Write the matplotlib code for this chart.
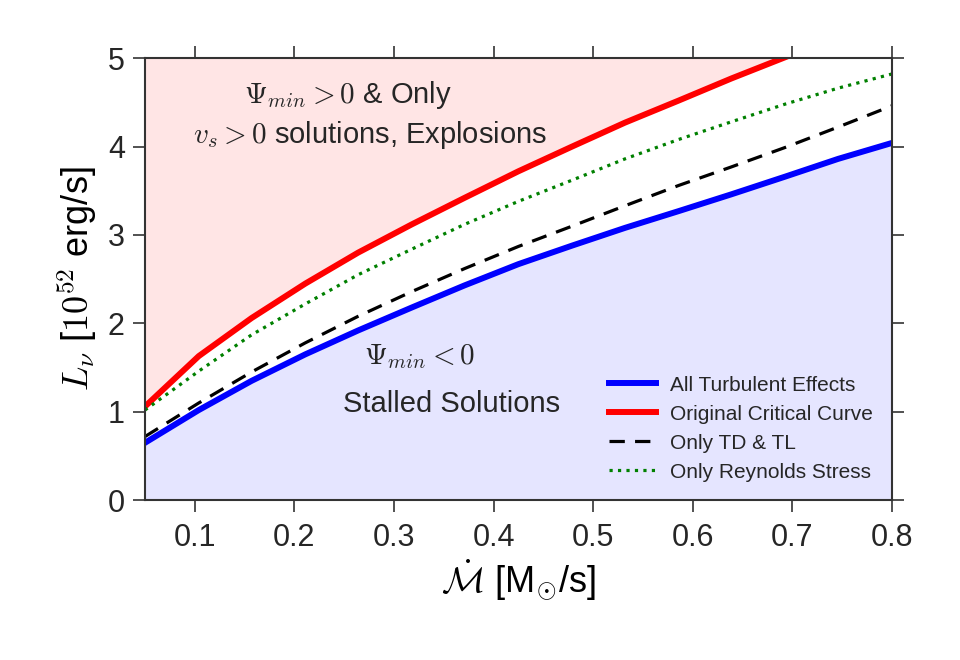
import matplotlib
matplotlib.use("Agg")
import matplotlib.pyplot as plt

plt.rcParams['font.family'] = ['Liberation Sans', 'DejaVu Sans']
plt.rcParams['mathtext.fontset'] = 'cm'
plt.rcParams['text.color'] = '#262626'
plt.rcParams['xtick.color'] = '#262626'
plt.rcParams['ytick.color'] = '#262626'

# accretion rate grid
mdot = [0.05, 0.104, 0.157, 0.211, 0.264, 0.318, 0.371, 0.425,
        0.479, 0.532, 0.586, 0.639, 0.693, 0.746, 0.8]

# critical luminosities
all_turb = [0.65, 1.02, 1.35, 1.65, 1.92, 2.18, 2.43, 2.67,
            2.88, 3.08, 3.27, 3.46, 3.66, 3.86, 4.04]
original = [1.06, 1.63, 2.06, 2.45, 2.80, 3.12, 3.42, 3.72,
            4.00, 4.27, 4.52, 4.77, 5.01, 5.25, 5.48]
only_td_tl = [0.72, 1.10, 1.45, 1.78, 2.08, 2.36, 2.62, 2.87,
              3.10, 3.33, 3.56, 3.77, 3.99, 4.22, 4.46]
only_reyn = [1.02, 1.46, 1.87, 2.22, 2.55, 2.84, 3.12, 3.38,
             3.62, 3.86, 4.08, 4.28, 4.48, 4.66, 4.82]

fig = plt.figure(figsize=(9.6, 6.6), dpi=100)
ax = fig.add_axes([0.151, 0.242, 0.778, 0.670])

# shaded regions
ax.fill_between(mdot, original, 5.0, where=[o < 5.0 for o in original], interpolate=True,
                color='red', alpha=0.1, lw=0)
ax.fill_between(mdot, 0, all_turb, color='blue', alpha=0.1, lw=0)

ax.plot(mdot, all_turb, color='blue', lw=4.3, label='All Turbulent Effects')
ax.plot(mdot, original, color='red', lw=4.3, label='Original Critical Curve')
ax.plot(mdot, only_td_tl, color='black', lw=2.3, ls='--', dashes=(4.8, 3.2), label='Only TD & TL')
ax.plot(mdot, only_reyn, color='green', lw=2.3, ls=':', label='Only Reynolds Stress')

ax.set_xlim(0.05, 0.8)
ax.set_ylim(0, 5)
ax.set_xticks([0.1, 0.2, 0.3, 0.4, 0.5, 0.6, 0.7, 0.8])
ax.set_yticks([0, 1, 2, 3, 4, 5])

for s in ax.spines.values():
    s.set_color('#333333')
    s.set_linewidth(1.5)
ax.tick_params(direction='out', length=8.5, width=1.2, labelsize=22,
               top=True, right=True, color='#333333')
ax.tick_params(axis='x', pad=8)
ax.tick_params(axis='y', pad=6)

ax.set_xlabel(r'$\dot{\mathcal{M}}$ [M$_{\odot}$/s]', fontsize=26, labelpad=3)
ax.set_ylabel(r'$L_{\nu}$ [$10^{52}$ erg/s]', fontsize=26, labelpad=6)

ax.text(0.254, 4.58, r'$\Psi_{min} > 0$ & Only', fontsize=21, ha='center', va='center')
ax.text(0.276, 4.13, r'$v_s > 0$ solutions, Explosions', fontsize=21, ha='center', va='center')
ax.text(0.326, 1.62, r'$\Psi_{min} < 0$', fontsize=21, ha='center', va='center')
ax.text(0.358, 1.09, 'Stalled Solutions', fontsize=21, ha='center', va='center')

ax.legend(loc='lower right', frameon=False, fontsize=15, handlelength=2.25,
          handletextpad=0.7, borderaxespad=0.5, labelspacing=0.48)

fig.savefig('out.png', dpi=100)
